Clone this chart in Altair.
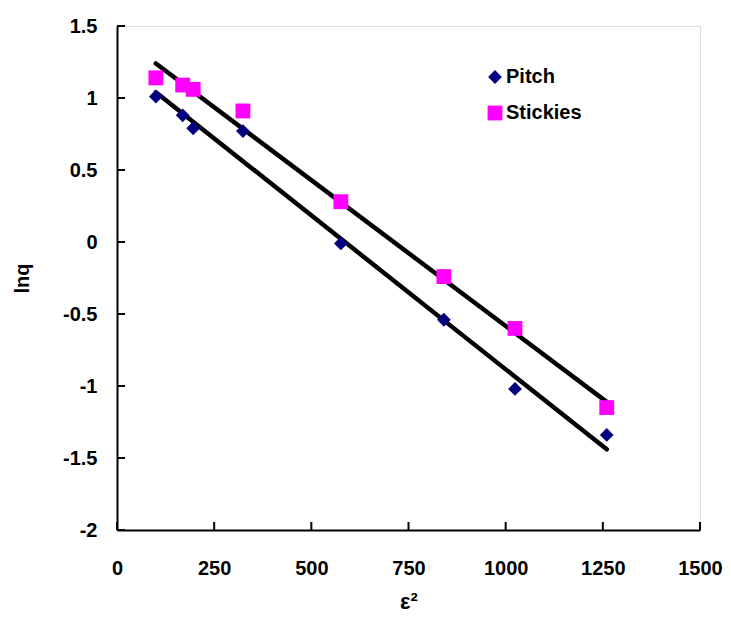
import altair as alt
import pandas as pd

# data
eps2 = [100, 169, 196, 324, 576, 841, 1024, 1260]
pitch = [1.01, 0.88, 0.79, 0.77, -0.01, -0.54, -1.02, -1.34]
stickies = [1.14, 1.09, 1.06, 0.91, 0.28, -0.24, -0.60, -1.15]

# linear fit endpoints
fit_x = [100, 1260]
pitch_fit = [1.04, -1.44]
stickies_fit = [1.24, -1.11]

x_ticks = [0, 250, 500, 750, 1000, 1250, 1500]
y_ticks = [-2, -1.5, -1, -0.5, 0, 0.5, 1, 1.5]

series_names = ["Pitch", "Stickies"]
series_colors = ["#000080", "#FF00FF"]
series_shapes = ["diamond", "square"]
series_sizes = [190, 220]

pts = pd.DataFrame(
    {"x": eps2 + eps2, "y": pitch + stickies,
     "s": ["Pitch"] * len(eps2) + ["Stickies"] * len(eps2)}
)
fits = pd.DataFrame(
    {"x": fit_x + fit_x, "y": pitch_fit + stickies_fit,
     "s": ["Pitch"] * 2 + ["Stickies"] * 2}
)

W, H = 583, 504
FONT = "Liberation Sans"

xs = alt.Scale(domain=[0, 1500], nice=False, zero=False)
ys = alt.Scale(domain=[-2, 1.5], nice=False, zero=False)

xaxis = alt.Axis(values=x_ticks, ticks=False, grid=False, domainColor="black",
                 domainWidth=2, labelFont=FONT, labelFontWeight="bold",
                 labelFontSize=20, labelColor="black", labelPadding=28,
                 labelExpr="'' + datum.value",
                 title="ε²", titleFont=FONT, titleFontWeight="bold",
                 titleFontSize=22, titleColor="black", titlePadding=13,
                 labelFlush=False)
yaxis = alt.Axis(values=y_ticks, ticks=False, grid=False, domainColor="black",
                 domainWidth=2, labelFont=FONT, labelFontWeight="bold",
                 labelFontSize=20, labelColor="black", labelPadding=20,
                 labelExpr="'' + datum.value",
                 title="lnq", titleFont=FONT, titleFontWeight="bold",
                 titleFontSize=20, titleColor="black", titlePadding=30,
                 labelFlush=False)

lines = alt.Chart(fits).mark_line(color="black", strokeWidth=4.5, strokeCap="round").encode(
    x=alt.X("x:Q", scale=xs, axis=xaxis),
    y=alt.Y("y:Q", scale=ys, axis=yaxis),
    detail="s:N",
)

points = alt.Chart(pts).mark_point(filled=True, opacity=1).encode(
    x=alt.X("x:Q", scale=xs),
    y=alt.Y("y:Q", scale=ys),
    color=alt.Color("s:N", scale=alt.Scale(domain=series_names, range=series_colors),
                    legend=alt.Legend(title=None, orient="none", legendX=368, legendY=41,
                                      labelFont=FONT, labelFontWeight="bold",
                                      labelFontSize=20, labelColor="black",
                                      rowPadding=16, labelOffset=1,
                                      symbolStrokeWidth=0)),
    shape=alt.Shape("s:N", scale=alt.Scale(domain=series_names, range=series_shapes)),
    size=alt.Size("s:N", scale=alt.Scale(domain=series_names, range=series_sizes)),
)

xt = alt.Chart(pd.DataFrame({"v": x_ticks})).mark_rule(color="black", strokeWidth=2).encode(
    x=alt.X("v:Q", scale=xs), y=alt.value(H), y2=alt.value(H - 8)
)
yt = alt.Chart(pd.DataFrame({"v": y_ticks})).mark_rule(color="black", strokeWidth=2).encode(
    y=alt.Y("v:Q", scale=ys), x=alt.value(0), x2=alt.value(8)
)

chart = alt.layer(lines, points, xt, yt).properties(
    width=W, height=H,
    autosize=alt.AutoSizeParams(type="none"),
    padding={"left": 109, "top": 18, "right": 23, "bottom": 90},
).configure_view(stroke="black", strokeWidth=2).configure(background="white")

chart.save("out.html", embed_options={"renderer": "svg", "actions": False})
